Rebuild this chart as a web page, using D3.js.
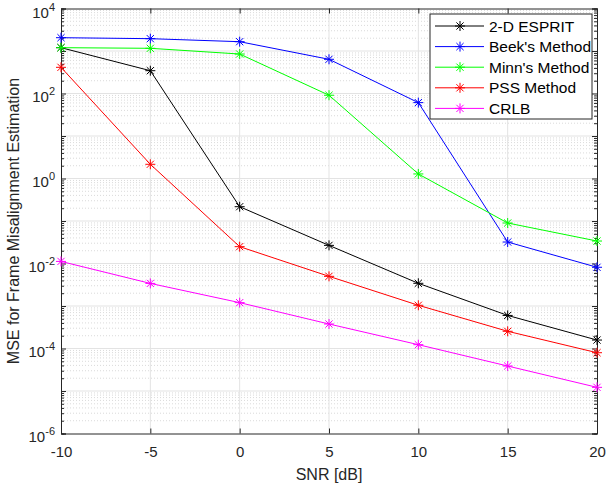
<!DOCTYPE html>
<html><head><meta charset="utf-8">
<script src="https://cdn.jsdelivr.net/npm/d3@7"></script>
<style>body{margin:0;background:#fff}svg{font-family:"Liberation Sans",Arial,sans-serif}</style>
</head><body><svg id="c" width="608" height="484"></svg>
<script>
const snr = [-10, -5, 0, 5, 10, 15, 20];
const esprit = [1197, 344, 0.217, 0.0267, 0.00342, 0.0006, 0.000158];
const beek = [2056, 1950, 1656, 638, 61, 0.032, 0.00815];
const minn = [1197, 1157, 849, 91, 1.28, 0.0897, 0.0338];
const pss = [413, 2.16, 0.0249, 0.00499, 0.00104, 0.000254, 0.0000796];
const crlb = [0.0112, 0.0034, 0.0012, 0.000377, 0.000123, 0.0000387, 0.0000122];
const seriesNames = ["2-D ESPRIT", "Beek's Method", "Minn's Method", "PSS Method", "CRLB"];
const seriesColors = ["#000000", "#0000ff", "#00ff00", "#ff0000", "#ff00ff"];
const seriesData = [esprit, beek, minn, pss, crlb];
const xTicks = [-10, -5, 0, 5, 10, 15, 20];
const yTickExps = [-6, -4, -2, 0, 2, 4];

const svg = d3.select("#c");
const L = 61, R = 597, T = 8.5, B = 433.5;
const x = d3.scaleLinear().domain([-10, 20]).range([L, R]);
const y = d3.scaleLog().domain([1e-6, 1e4]).range([B, T]);

// minor grid
const minorVals = [];
for (let e = -6; e < 4; e++) for (let m = 2; m <= 9; m++) minorVals.push(m * Math.pow(10, e));
const g = svg.append("g");
g.selectAll("line.mn").data(minorVals).enter().append("line")
  .attr("x1", L).attr("x2", R).attr("y1", d => y(d)).attr("y2", d => y(d))
  .attr("stroke", "#d0d0d0").attr("stroke-width", 0.8).attr("stroke-dasharray", "1,2");
// major grid
const majorY = d3.range(-5, 4).map(e => Math.pow(10, e));
g.selectAll("line.mj").data(majorY).enter().append("line")
  .attr("x1", L).attr("x2", R).attr("y1", d => y(d)).attr("y2", d => y(d))
  .attr("stroke", "#e3e3e3").attr("stroke-width", 1);
g.selectAll("line.mx").data(xTicks.slice(1, -1)).enter().append("line")
  .attr("x1", d => x(d)).attr("x2", d => x(d)).attr("y1", T).attr("y2", B)
  .attr("stroke", "#e3e3e3").attr("stroke-width", 1);

// axes
const ax = "#262626";
const xAxB = d3.axisBottom(x).tickValues(xTicks).tickSize(-5).tickFormat(d => d);
const xAxT = d3.axisTop(x).tickValues(xTicks).tickSize(-5).tickFormat("");
const majorAll = yTickExps.map(e => Math.pow(10, e)).concat([1e-5,1e-3,1e-1,1e1,1e3]);
const yAxL = d3.axisLeft(y).tickValues(majorAll).tickSize(-5).tickFormat("");
const yAxR = d3.axisRight(y).tickValues(majorAll).tickSize(-5).tickFormat("");
const yMinL = d3.axisLeft(y).tickValues(minorVals).tickSize(-3).tickFormat("");
const yMinR = d3.axisRight(y).tickValues(minorVals).tickSize(-3).tickFormat("");
function style(sel) { sel.selectAll("path,line").attr("stroke", ax); sel.selectAll("text").attr("fill", ax); }
const gx = svg.append("g").attr("transform", `translate(0,${B})`).call(xAxB);
gx.selectAll("text").attr("font-size", 15).attr("y", 23).attr("dy", 0).attr("font-family", "Liberation Sans, Arial, sans-serif");
style(gx);
style(svg.append("g").attr("transform", `translate(0,${T})`).call(xAxT));
style(svg.append("g").attr("transform", `translate(${L},0)`).call(yAxL));
style(svg.append("g").attr("transform", `translate(${R},0)`).call(yAxR));
style(svg.append("g").attr("transform", `translate(${L},0)`).call(yMinL));
style(svg.append("g").attr("transform", `translate(${R},0)`).call(yMinR));
svg.selectAll(".domain").attr("stroke", ax).attr("stroke-width", 1);

// y tick labels
const yl = svg.append("g");
yTickExps.forEach(e => {
  const t = yl.append("text").attr("x", 55).attr("y", Math.max(y(Math.pow(10, e)) + 8.5, 18))
    .attr("text-anchor", "end").attr("font-size", 15).attr("fill", ax);
  t.append("tspan").text("10");
  t.append("tspan").attr("dy", -7).attr("font-size", 11).text(e);
});

// series
const line = d3.line().x((d, i) => x(snr[i])).y(d => y(d));
seriesData.forEach((data, k) => {
  const c = seriesColors[k];
  svg.append("path").datum(data).attr("d", line).attr("fill", "none").attr("stroke", c).attr("stroke-width", 1);
  data.forEach((v, i) => drawStar(svg, x(snr[i]), y(v), c));
});
function drawStar(sel, cx, cy, c) {
  const s = 5;
  const p = `M${cx-s},${cy}L${cx+s},${cy}M${cx},${cy-s}L${cx},${cy+s}` +
    `M${cx-s*0.72},${cy-s*0.72}L${cx+s*0.72},${cy+s*0.72}M${cx-s*0.72},${cy+s*0.72}L${cx+s*0.72},${cy-s*0.72}`;
  sel.append("path").attr("d", p).attr("stroke", c).attr("stroke-width", 1).attr("fill", "none");
}

// legend
const lg = svg.append("g");
lg.append("rect").attr("x", 430).attr("y", 14).attr("width", 162).attr("height", 105)
  .attr("fill", "#fff").attr("stroke", ax).attr("stroke-width", 1);
seriesNames.forEach((n, k) => {
  const yy = 26 + k * 20.6;
  lg.append("line").attr("x1", 435).attr("x2", 484).attr("y1", yy).attr("y2", yy)
    .attr("stroke", seriesColors[k]).attr("stroke-width", 1);
  drawStar(lg, 460, yy, seriesColors[k]);
  lg.append("text").attr("x", 489).attr("y", yy + 5.5).attr("font-size", 15.5).attr("fill", "#000").text(n);
});

// labels
svg.append("text").attr("x", 329).attr("y", 480).attr("text-anchor", "middle")
  .attr("font-size", 16).attr("fill", ax).text("SNR [dB]");
svg.append("text").attr("transform", `translate(19,${(T + B) / 2}) rotate(-90)`).attr("text-anchor", "middle")
  .attr("font-size", 16).attr("fill", ax).text("MSE for Frame Misalignment Estimation");
</script></body></html>
